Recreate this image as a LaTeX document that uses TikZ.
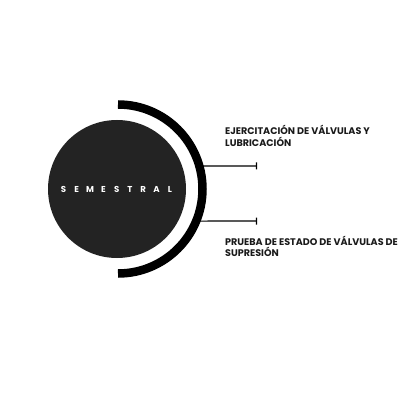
\documentclass[tikz,border=0pt]{standalone}
\usepackage{fontspec}
\setmainfont{Poppins}
\usetikzlibrary{arrows.meta,calc}

\definecolor{disc}{HTML}{232323}
\definecolor{ink}{HTML}{1A1A1A}

\begin{document}
\begin{tikzpicture}[x=1pt,y=-1pt,
    item/.style={anchor=base west,align=left,inner sep=0pt,text=ink,
        font=\fontsize{9.6}{11.6}\selectfont\bfseries},
    lead/.style={line width=1.1pt,-{Bar[width=7pt,line width=1.1pt]}},
    letter/.style={text=white,inner sep=0pt,font=\fontsize{8.6}{10}\selectfont\bfseries}]
\useasboundingbox (0,0) rectangle (414,419);

% disc and outer ring
\node[circle,fill=disc,minimum size=138pt,inner sep=0pt] (sem) at (117,189) {};
\draw[line width=8.5pt] (118,104.5) arc[start angle=-90,end angle=90,radius=84.5];

% spaced title
\foreach \l [count=\i] in {S,E,M,E,S,T,R,A,L}
    \node[letter] (s\i) at ({63.5+(\i-1)*13.3},189) {\l};

% leads from the ring
\coordinate (a1) at ($(118,189)+(-15.8:84.5)$);
\coordinate (a2) at ($(118,189)+(22.3:84.5)$);
\coordinate (t1) at (257,166);
\coordinate (t2) at (257,221);
\draw[lead] (a1) -- (t1);
\draw[lead] (a2) -- (t2);

% labels
\node[item] (top) at (225,146.3) {EJERCITACIÓN DE VÁLVULAS Y\\LUBRICACIÓN};
\node[item] (bot) at (225,256.6) {PRUEBA DE ESTADO DE VÁLVULAS DE\\SUPRESIÓN};
\end{tikzpicture}
\end{document}
